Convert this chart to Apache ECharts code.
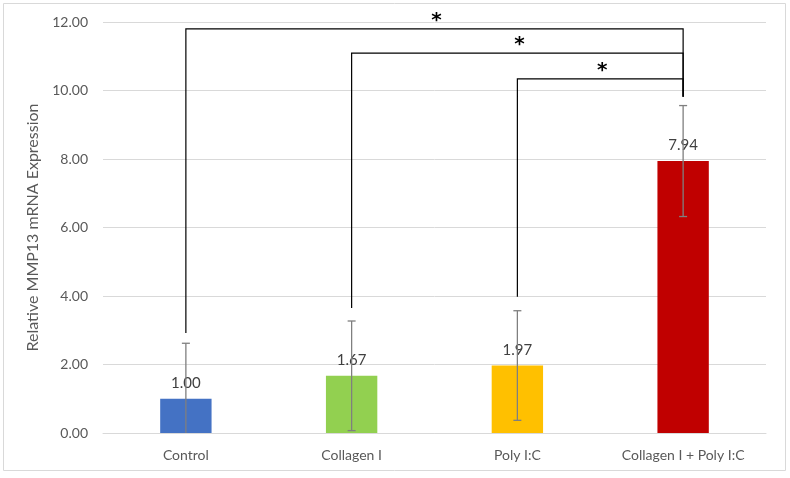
<!DOCTYPE html>
<html>
<head>
<meta charset="utf-8">
<script src="https://cdn.jsdelivr.net/npm/echarts@6/dist/echarts.min.js"></script>
<style>
  html, body { margin: 0; padding: 0; background: #fff; }
  #main { width: 790px; height: 478px; }
</style>
</head>
<body>
<div id="main"></div>
<script>
// 数据
var categories = ['Control', 'Collagen I', 'Poly I:C', 'Collagen I + Poly I:C'];
var values = [1.00, 1.67, 1.97, 7.94];
var errors = [1.62, 1.60, 1.60, 1.62];
var barColors = ['#4472C4', '#92D050', '#FFC000', '#C00000'];
var yTicks = [0, 2, 4, 6, 8, 10, 12];

// significance brackets: [from category, to category, bracket height, from start, to start]
var bracketFrom = [0, 1, 2];
var bracketTo = [3, 3, 3];
var bracketTop = [11.80, 11.09, 10.34];
var bracketFromStart = [2.92, 3.65, 3.98];
var bracketToStart = [9.82, 9.82, 9.82];
var bracketMark = ['*', '*', '*'];

var font = 'Lato';
var grey = '#595959';

var errData = values.map(function (v, i) { return [i, v - errors[i], v + errors[i]]; });
var bracketData = bracketFrom.map(function (f, i) {
  return [f, bracketTo[i], bracketTop[i], bracketFromStart[i], bracketToStart[i]];
});

var myChart = echarts.init(document.getElementById('main'));
myChart.setOption({
  animation: false,
  textStyle: { fontFamily: font },
  graphic: [{
    type: 'rect',
    shape: { x: 3.5, y: 3.5, width: 782, height: 467 },
    style: { fill: 'none', stroke: '#d9d9d9', lineWidth: 1 },
    silent: true
  }],
  grid: { left: 103, right: 24, top: 22, bottom: 45 },
  xAxis: {
    type: 'category',
    data: categories,
    axisTick: { show: false },
    axisLine: { lineStyle: { color: '#d9d9d9' } },
    axisLabel: { color: grey, fontSize: 14, margin: 15, fontFamily: font }
  },
  yAxis: {
    type: 'value',
    min: yTicks[0],
    max: yTicks[yTicks.length - 1],
    interval: 2,
    name: 'Relative MMP13 mRNA Expression',
    nameLocation: 'middle',
    nameGap: 60,
    nameTextStyle: { color: grey, fontSize: 16, fontFamily: font },
    axisLabel: {
      color: grey, fontSize: 14, margin: 15, fontFamily: font,
      formatter: function (v) { return v.toFixed(2); }
    },
    splitLine: { lineStyle: { color: '#d9d9d9' } }
  },
  series: [
    {
      type: 'bar',
      barWidth: '31%',
      data: values.map(function (v, i) {
        return { value: v, itemStyle: { color: barColors[i] } };
      }),
      label: {
        show: true,
        position: 'top',
        distance: 8,
        color: '#404040',
        fontSize: 15,
        fontFamily: font,
        formatter: function (p) { return p.value.toFixed(2); }
      }
    },
    {
      // error bars
      type: 'custom',
      clip: true,
      z: 5,
      data: errData,
      renderItem: function (params, api) {
        var x = api.value(0);
        var lo = api.coord([x, api.value(1)]);
        var hi = api.coord([x, api.value(2)]);
        var cap = 4;
        var style = { stroke: '#7f7f7f', lineWidth: 1.3 };
        return {
          type: 'group',
          children: [
            { type: 'line', shape: { x1: hi[0], y1: hi[1], x2: lo[0], y2: lo[1] }, style: style },
            { type: 'line', shape: { x1: hi[0] - cap, y1: hi[1], x2: hi[0] + cap, y2: hi[1] }, style: style },
            { type: 'line', shape: { x1: lo[0] - cap, y1: lo[1], x2: lo[0] + cap, y2: lo[1] }, style: style }
          ]
        };
      }
    },
    {
      // significance brackets
      type: 'custom',
      z: 6,
      data: bracketData,
      renderItem: function (params, api) {
        var a = api.coord([api.value(0), api.value(3)]);
        var b = api.coord([api.value(1), api.value(4)]);
        var top = api.coord([api.value(0), api.value(2)])[1];
        var style = { stroke: '#000', lineWidth: 1.2, fill: 'none' };
        return {
          type: 'group',
          children: [
            {
              type: 'polyline',
              shape: { points: [[a[0], a[1]], [a[0], top], [b[0], top], [b[0], b[1]]] },
              style: style
            },
            {
              type: 'text',
              style: {
                text: bracketMark[params.dataIndex],
                x: (a[0] + b[0]) / 2 + 2,
                y: top - 18,
                align: 'center',
                verticalAlign: 'top',
                fill: '#000',
                font: 'bold 20px DejaVu Sans'
              }
            }
          ]
        };
      }
    }
  ]
});
</script>
</body>
</html>
